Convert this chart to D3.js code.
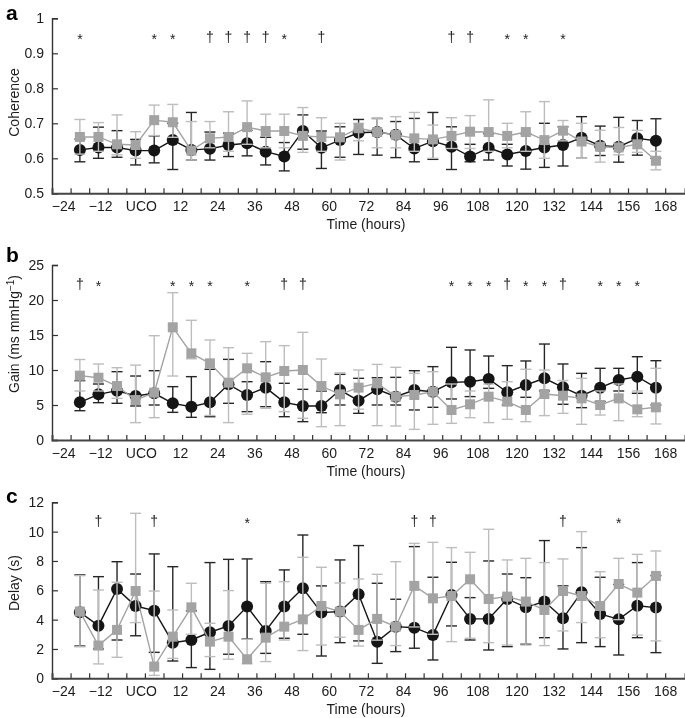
<!DOCTYPE html>
<html><head><meta charset="utf-8">
<script src="https://cdn.jsdelivr.net/npm/d3@7"></script>
<style>body{margin:0;background:#fff}svg{display:block;font-family:"Liberation Sans Narrow","Liberation Sans",Arial,Helvetica,sans-serif;will-change:transform}</style>
</head><body><svg id="chart" width="685" height="718"></svg>
<script>
// ---------- data ----------
const hours = [-21,-15,-9,-3,3,9,15,21,27,33,39,45,51,57,63,69,75,81,87,93,99,105,111,117,123,129,135,141,147,153,159,165];
const xTickHours = [-24,-18,-12,-6,0,6,12,18,24,30,36,42,48,54,60,66,72,78,84,90,96,102,108,114,120,126,132,138,144,150,156,162,168];
const xLabelHours = [-24,-12,0,12,24,36,48,60,72,84,96,108,120,132,144,156,168];
const xLabelText = ["\u221224","\u221212","UCO","12","24","36","48","60","72","84","96","108","120","132","144","156","168"];

// panel a: coherence
const aBlack   = [0.624,0.631,0.631,0.622,0.622,0.652,0.624,0.627,0.638,0.643,0.619,0.605,0.678,0.630,0.652,0.673,0.675,0.667,0.628,0.649,0.633,0.605,0.630,0.611,0.621,0.631,0.638,0.659,0.636,0.633,0.657,0.650];
const aBlackHi = [0.655,0.689,0.679,0.654,0.664,0.700,0.731,0.675,0.672,0.680,0.660,0.645,0.724,0.678,0.690,0.711,0.714,0.705,0.714,0.731,0.690,0.640,0.670,0.640,0.670,0.700,0.690,0.719,0.692,0.717,0.708,0.713];
const aBlackLo = [0.590,0.600,0.603,0.581,0.587,0.568,0.595,0.595,0.605,0.607,0.581,0.564,0.626,0.571,0.603,0.611,0.609,0.602,0.590,0.597,0.568,0.590,0.595,0.578,0.569,0.574,0.578,0.600,0.608,0.589,0.609,0.600];
const aGray    = [0.661,0.661,0.640,0.638,0.709,0.703,0.622,0.657,0.661,0.689,0.678,0.678,0.664,0.661,0.660,0.686,0.675,0.667,0.657,0.654,0.664,0.676,0.675,0.664,0.675,0.652,0.679,0.648,0.633,0.631,0.640,0.593];
const aGrayHi  = [0.711,0.702,0.724,0.676,0.752,0.754,0.705,0.705,0.733,0.764,0.726,0.726,0.745,0.716,0.700,0.700,0.713,0.719,0.731,0.695,0.716,0.722,0.767,0.700,0.733,0.762,0.708,0.700,0.680,0.688,0.680,0.620];
const aGrayLo  = [0.612,0.620,0.610,0.600,0.665,0.660,0.595,0.630,0.620,0.640,0.630,0.630,0.617,0.620,0.595,0.650,0.630,0.630,0.620,0.600,0.628,0.628,0.620,0.630,0.620,0.600,0.650,0.600,0.589,0.610,0.617,0.567];
const aStars   = [-21,3,9,45,117,123,135];
const aDaggers = [21,27,33,39,57,99,105];
const aTicks   = [0.5,0.6,0.7,0.8,0.9,1];

// panel b: gain
const bBlack   = [5.38,6.52,7.05,6.29,6.67,5.24,4.76,5.38,7.95,6.43,7.48,5.38,4.86,4.86,7.14,5.62,7.24,6.19,7.14,6.90,8.24,8.33,8.71,6.81,7.86,8.81,7.52,6.33,7.48,8.57,9.05,7.48];
const bBlackHi = [8.48,8.0,9.76,9.14,9.9,7.62,9.05,10.1,11.52,8.33,11.19,8.1,7.24,7.0,9.38,8.81,8.9,8.95,9.9,10.48,13.24,12.86,12.0,10.62,11.29,13.71,10.86,9.52,10.24,10.24,11.9,11.33];
const bBlackLo = [4.19,5.33,5.24,4.86,5.0,3.95,3.24,3.33,5.24,4.05,4.76,3.33,2.62,3.9,5.0,3.81,5.0,5.0,4.29,4.67,5.86,6.2,7.38,5.0,6.1,7.0,5.1,4.62,5.5,7.0,6.67,5.0];
const bGray    = [9.19,8.9,7.71,5.71,6.76,16.1,12.38,10.95,8.19,10.24,8.95,9.86,10.0,7.71,6.52,7.48,8.1,6.19,6.43,6.9,4.29,5.1,6.19,5.48,4.29,6.57,6.33,5.95,5.0,5.95,4.38,4.67];
const bGrayHi  = [11.5,10.86,10.33,10.7,14.9,21.05,17.1,14.29,13.19,12.38,14.05,13.48,15.38,11.57,9.6,10.0,10.8,10.38,9.52,9.76,8.0,7.0,8.0,8.33,10.1,10.0,8.5,8.81,7.0,8.0,7.0,10.24];
const bGrayLo  = [7.0,7.0,5.95,2.48,3.19,9.14,11.6,3.5,2.48,3.67,4.52,4.05,3.1,1.9,2.05,4.4,2.05,2.0,1.52,2.24,2.38,3.19,2.48,2.95,2.62,3.48,3.81,2.24,3.57,2.76,3.33,2.29];
const bStars   = [-15,9,15,21,33,99,105,111,123,129,147,153,159];
const bDaggers = [-21,45,51,117,135];
const bTicks   = [0,5,10,15,20,25];

// panel c: delay
const cBlack   = [4.5,3.59,6.09,4.93,4.61,2.43,2.61,3.14,3.57,4.89,3.23,4.89,6.14,4.48,4.55,5.73,2.5,3.52,3.45,2.95,5.68,4.05,4.05,5.41,4.84,5.23,4.09,5.86,4.39,4.02,4.95,4.82];
const cBlackHi = [7.05,6.93,7.95,7.11,8.48,7.61,4.6,7.89,8.11,8.14,6.59,7.39,9.77,6.3,8.07,9.05,6.48,5.39,8.98,6.89,7.91,5.5,8.0,7.11,6.86,9.39,6.3,8.91,6.89,6.4,7.89,7.0];
const cBlackLo = [2.2,2.0,2.61,2.9,1.77,1.18,0.73,0.61,1.64,2.68,1.7,2.73,3.0,1.52,2.43,2.55,1.02,1.82,2.05,1.25,3.57,2.61,1.93,2.16,2.32,2.77,2.0,2.43,2.16,1.59,2.77,1.75];
const cGray    = [4.55,2.23,3.3,5.95,0.8,2.84,4.84,2.5,2.84,1.3,2.77,3.52,4.02,4.93,4.55,3.3,4.05,3.52,6.3,5.45,5.61,6.75,5.41,5.57,5.23,4.66,5.95,5.61,4.93,6.43,5.84,6.98];
const cGrayHi  = [7.0,6.02,6.55,11.25,5.95,4.66,6.48,3.75,5.98,2.66,6.48,6.59,8.25,7.57,6.5,6.77,7.09,7.95,9.2,9.27,8.91,8.59,10.16,8.07,8.18,7.89,8.14,10.0,7.27,8.18,8.45,8.68];
const cGrayLo  = [2.15,0.98,1.43,3.8,0.2,1.36,3.0,1.48,1.3,1.0,1.14,2.61,1.89,2.27,2.8,2.2,2.6,2.23,3.5,3.0,2.5,2.73,2.43,2.27,2.27,2.23,3.23,3.8,2.77,4.0,2.95,2.55];
const cStars   = [33,153];
const cDaggers = [-15,3,87,93,135];
const cTicks   = [0,2,4,6,8,10,12];

// ---------- layout ----------
const svg = d3.select("#chart");
const FONT = 14;
const x = d3.scaleLinear().domain([-30,174.4]).range([52,685]);
const BLACK = "#151515", BLACK_BAR = "#262626", GRAY = "#a3a3a3", GRAY_BAR = "#bdbdbd", TEXT = "#1c1c1c";

const panels = [
  {letter:"a", letterY:20, top:18.3, bottom:193.3, domain:[0.5,1], ticks:aTicks, fmt:d=>d===1?"1":d.toFixed(1),
   title:"Coherence", titleCY:102.5, black:aBlack, blackHi:aBlackHi, blackLo:aBlackLo, gray:aGray, grayHi:aGrayHi, grayLo:aGrayLo, stars:aStars, daggers:aDaggers},
  {letter:"b", letterY:262, top:265, bottom:440, domain:[0,25], ticks:bTicks, fmt:d=>String(d),
   title:"gain", titleCY:334, black:bBlack, blackHi:bBlackHi, blackLo:bBlackLo, gray:bGray, grayHi:bGrayHi, grayLo:bGrayLo, stars:bStars, daggers:bDaggers},
  {letter:"c", letterY:503, top:502.3, bottom:678.3, domain:[0,12], ticks:cTicks, fmt:d=>String(d),
   title:"Delay (s)", titleCY:583, black:cBlack, blackHi:cBlackHi, blackLo:cBlackLo, gray:cGray, grayHi:cGrayHi, grayLo:cGrayLo, stars:cStars, daggers:cDaggers}
];

function labelDx(h){ if(h<0) return -7.5; if(h===0) return -4; if(h<120) return -2; return 0; }

panels.forEach(p => {
  const y = d3.scaleLinear().domain(p.domain).range([p.bottom, p.top]);
  const g = svg.append("g");

  // panel letter
  g.append("text").attr("x",6).attr("y",p.letterY).attr("font-size",21).attr("font-weight","bold")
   .attr("font-family","'Liberation Sans',Arial,sans-serif").attr("fill","#000").text(p.letter);

  // y axis
  const ya = g.append("g").attr("transform",`translate(${x(-30)},0)`)
    .call(d3.axisLeft(y).tickValues(p.ticks).tickSize(-6).tickPadding(8).tickFormat(p.fmt));
  ya.select(".domain").attr("stroke","#333").attr("stroke-width",1.4);
  ya.selectAll(".tick line").attr("stroke","#333").attr("stroke-width",1.2);
  ya.selectAll("text").attr("font-size",FONT).attr("fill",TEXT).attr("font-family",null);

  // x axis
  const xa = g.append("g").attr("transform",`translate(0,${p.bottom})`)
    .call(d3.axisBottom(x).tickValues(xTickHours).tickSize(-5).tickPadding(8)
      .tickFormat(h => { const k = xLabelHours.indexOf(h); return k>=0 ? xLabelText[k] : ""; }));
  xa.select(".domain").attr("stroke","#444").attr("stroke-width",2);
  xa.selectAll(".tick line").attr("stroke","#333").attr("stroke-width",1.2);
  xa.selectAll(".tick text").attr("font-size",FONT).attr("fill",TEXT).attr("font-family",null)
    .attr("dx",h=>labelDx(h));

  // x title
  g.append("text").attr("x",366).attr("y",p.bottom+36).attr("text-anchor","middle")
   .attr("font-size",FONT).attr("fill",TEXT).text("Time (hours)");

  // y title
  const yt = g.append("text").attr("transform",`translate(18.5,${p.titleCY}) rotate(-90)`)
   .attr("text-anchor","middle").attr("font-size",FONT).attr("fill",TEXT);
  if(p.title==="gain"){
    yt.append("tspan").text("Gain (ms mmHg");
    yt.append("tspan").attr("baseline-shift","super").attr("font-size",10).text("\u22121");
    yt.append("tspan").text(")");
  } else yt.text(p.title);

  // significance markers
  const symY = p.top + 24;
  g.selectAll(null).data(p.stars).join("text").attr("x",d=>x(d)).attr("y",symY+2)
    .attr("text-anchor","middle").attr("font-size",14).attr("fill","#222").text("*");
  g.selectAll(null).data(p.daggers).join("text").attr("x",d=>x(d)).attr("y",symY)
    .attr("text-anchor","middle").attr("font-size",14).attr("fill","#222").text("\u2020");

  // series drawing
  function drawSeries(vals, hi, lo, barColor, lineColor, marker){
    const sg = g.append("g");
    const cap = 5.5;
    hours.forEach((h,i) => {
      const cx = x(h);
      sg.append("line").attr("x1",cx).attr("x2",cx).attr("y1",y(lo[i])).attr("y2",y(hi[i]))
        .attr("stroke",barColor).attr("stroke-width",1.4);
      [hi[i],lo[i]].forEach(v => sg.append("line").attr("x1",cx-cap).attr("x2",cx+cap)
        .attr("y1",y(v)).attr("y2",y(v)).attr("stroke",barColor).attr("stroke-width",1.4));
    });
    sg.append("path").datum(vals).attr("fill","none").attr("stroke",lineColor).attr("stroke-width",1.4)
      .attr("d", d3.line().x((d,i)=>x(hours[i])).y(d=>y(d)));
    if(marker==="circle"){
      sg.selectAll("circle").data(vals).join("circle").attr("cx",(d,i)=>x(hours[i])).attr("cy",d=>y(d))
        .attr("r",6).attr("fill",BLACK);
    } else {
      const s = 10;
      sg.selectAll("rect").data(vals).join("rect").attr("x",(d,i)=>x(hours[i])-s/2).attr("y",d=>y(d)-s/2)
        .attr("width",s).attr("height",s).attr("fill",GRAY);
    }
  }
  drawSeries(p.black, p.blackHi, p.blackLo, BLACK_BAR, BLACK, "circle");
  drawSeries(p.gray, p.grayHi, p.grayLo, GRAY_BAR, GRAY, "square");
});
</script></body></html>
